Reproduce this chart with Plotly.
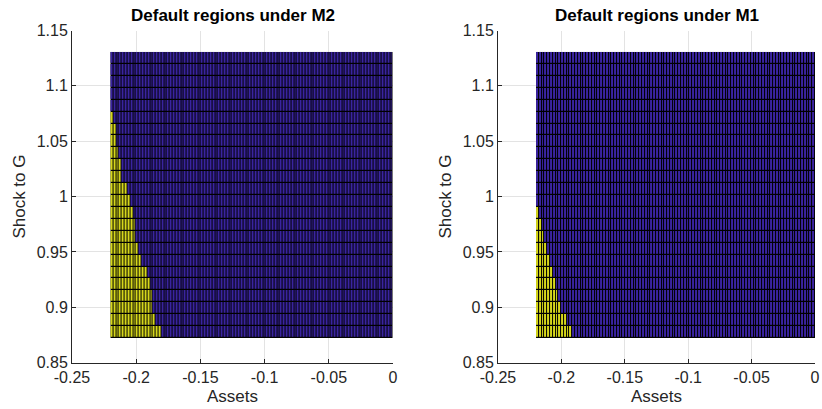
import numpy as np
import plotly.graph_objects as go

# ---- data ----
# asset grid (cell edges) and shock grid (cell edges)
asset_min, asset_max, n_assets = -0.22, 0.0, 100
shock_min, shock_max, n_shocks = 0.8723, 1.1306, 24
asset_edges = np.linspace(asset_min, asset_max, n_assets + 1)
shock_edges = np.linspace(shock_min, shock_max, n_shocks + 1)

# default threshold per shock row (bottom -> top): assets below it default; None = no default
threshold_M2 = [-0.1807, -0.1838, -0.1861, -0.1877, -0.1900, -0.1924, -0.1947, -0.1970,
                -0.1994, -0.2009, -0.2025, -0.2048, -0.2072, -0.2103, -0.2118, -0.2134,
                -0.2149, -0.2165, -0.2185, None, None, None, None, None]
threshold_M1 = [-0.1916, -0.1955, -0.1994, -0.2017, -0.2056, -0.2072, -0.2095, -0.2110,
                -0.2134, -0.2152, -0.2185, None, None, None, None, None, None, None,
                None, None, None, None, None, None]

titles = ["Default regions under M2", "Default regions under M1"]
x_ticks = [-0.25, -0.2, -0.15, -0.1, -0.05, 0]
x_ticklabels = ["-0.25", "-0.2", "-0.15", "-0.1", "-0.05", "0"]
y_ticks = [0.85, 0.9, 0.95, 1.0, 1.05, 1.1, 1.15]
y_ticklabels = ["0.85", "0.9", "0.95", "1", "1.05", "1.1", "1.15"]

asset_centers = (asset_edges[:-1] + asset_edges[1:]) / 2


def region(thr):
    z = []
    for t in thr:
        if t is None:
            z.append([0] * n_assets)
        else:
            z.append([1 if a < t else 0 for a in asset_centers])
    return z


W, H = 822, 409
domains_x = [(72 / W, 393 / W), (498 / W, 815 / W)]
y_top_px, y_bot_px = 30.5, 362.7
dom_y = (1 - y_bot_px / H, 1 - y_top_px / H)

fig = go.Figure()
FONT = "Liberation Sans, Arial, Helvetica, sans-serif"
AX = "#262626"
colorscale = [[0, "#3a24a0"], [1, "#d6d71c"]]

for i, (thr, title) in enumerate(zip([threshold_M2, threshold_M1], titles)):
    xa = "x" if i == 0 else "x2"
    ya = "y" if i == 0 else "y2"
    # black backing layer so the cell gaps read as black edges (covers gridlines)
    fig.add_trace(go.Heatmap(
        x=[asset_edges[0], asset_edges[-1]], y=[shock_edges[0], shock_edges[-1]],
        z=[[0]], colorscale=[[0, "#000000"], [1, "#000000"]], showscale=False,
        xaxis=xa, yaxis=ya, hoverinfo="skip"))
    fig.add_trace(go.Heatmap(
        x=asset_edges, y=shock_edges, z=region(thr),
        colorscale=colorscale, zmin=0, zmax=1, showscale=False,
        xgap=1, ygap=1.2, xaxis=xa, yaxis=ya, hoverinfo="skip"))
    axis_common = dict(showline=True, linecolor=AX, linewidth=1, ticks="inside",
                       ticklen=4, tickcolor=AX, mirror=False, showgrid=True,
                       gridcolor="#e3e3e3", gridwidth=1, zeroline=False,
                       automargin=False,
                       tickfont=dict(family=FONT, size=16, color=AX))
    xkey = "xaxis" if i == 0 else "xaxis2"
    ykey = "yaxis" if i == 0 else "yaxis2"
    fig.update_layout(**{
        xkey: dict(axis_common, domain=domains_x[i], range=[-0.25, 0],
                   tickvals=x_ticks, ticktext=x_ticklabels, anchor=ya),
        ykey: dict(axis_common, domain=dom_y, range=[0.85, 1.15],
                   tickvals=y_ticks, ticktext=y_ticklabels, anchor=xa),
    })
    xc = (domains_x[i][0] + domains_x[i][1]) / 2
    fig.add_annotation(text="<b>" + title + "</b>", xref="paper", yref="paper",
                       x=xc, y=1 - 15 / H, xanchor="center", yanchor="middle",
                       showarrow=False,
                       font=dict(family=FONT, size=17, color="#000000"))
    fig.add_annotation(text="Assets", xref="paper", yref="paper",
                       x=xc, y=1 - 396 / H, xanchor="center", yanchor="middle",
                       showarrow=False, font=dict(family=FONT, size=17, color=AX))
    fig.add_annotation(text="Shock to G", xref="paper", yref="paper",
                       x=(domains_x[i][0] * W - 52) / W, y=(dom_y[0] + dom_y[1]) / 2,
                       xanchor="center", yanchor="middle", textangle=-90,
                       showarrow=False, font=dict(family=FONT, size=17, color=AX))

fig.update_layout(width=W, height=H, margin=dict(l=0, r=0, t=0, b=0),
                  paper_bgcolor="white", plot_bgcolor="white", showlegend=False)
fig.write_html("out.html", config={"displayModeBar": False},
               post_script="document.body.style.margin='0';document.body.style.padding='0';")
